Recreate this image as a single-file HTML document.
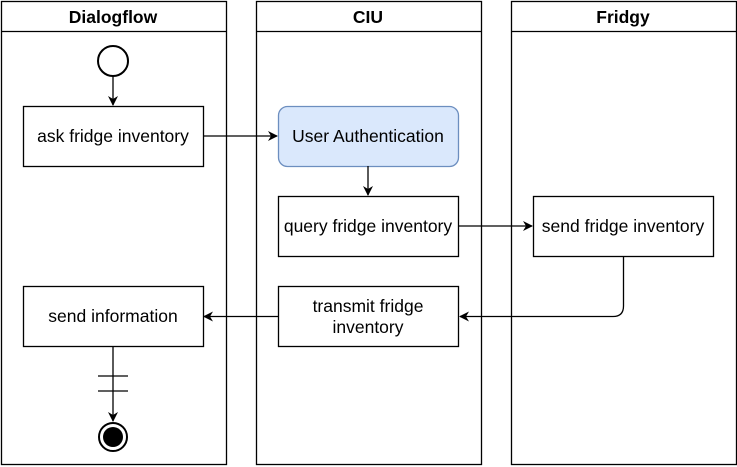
<!DOCTYPE html>
<html><head><style>body{margin:0;background:#fff}svg{display:block}</style></head><body>
<svg width="737" height="467" viewBox="0 0 737 467" xmlns="http://www.w3.org/2000/svg" font-family="Liberation Sans, Arial, sans-serif">
<defs><marker id="a" markerWidth="10" markerHeight="10" refX="9" refY="5" orient="auto" markerUnits="userSpaceOnUse"><path d="M0,0 L10,5 L0,10 L3,5 Z" fill="#000"/></marker></defs>
<g fill="none" stroke="#000" stroke-width="1.3">
<rect x="1.5" y="1.5" width="225" height="463"/><line x1="1.5" y1="31.5" x2="226.5" y2="31.5"/>
<rect x="256.5" y="1.5" width="225" height="463"/><line x1="256.5" y1="31.5" x2="481.5" y2="31.5"/>
<rect x="511.5" y="1.5" width="225" height="463"/><line x1="511.5" y1="31.5" x2="736.5" y2="31.5"/>
<circle cx="113" cy="61" r="15" stroke-width="2"/>
<line x1="113" y1="76" x2="113" y2="105" marker-end="url(#a)"/>
<rect x="23.5" y="106.5" width="180" height="60"/>
<line x1="203" y1="136" x2="277" y2="136" marker-end="url(#a)"/>
<rect x="278.5" y="106.5" width="180" height="60" rx="9" fill="#dae8fc" stroke="#6c8ebf"/>
<line x1="368" y1="166" x2="368" y2="195" marker-end="url(#a)"/>
<rect x="278.5" y="196.5" width="180" height="60"/>
<line x1="458" y1="226" x2="532" y2="226" marker-end="url(#a)"/>
<rect x="533.5" y="196.5" width="180" height="60"/>
<path d="M623.5,256 L623.5,306 Q623.5,316.5 613,316.5 L460,316.5" marker-end="url(#a)"/>
<rect x="278.5" y="286.5" width="180" height="60"/>
<line x1="278" y1="316.5" x2="204" y2="316.5" marker-end="url(#a)"/>
<rect x="23.5" y="286.5" width="180" height="60"/>
<line x1="113" y1="346" x2="113" y2="421" marker-end="url(#a)"/>
<line x1="98" y1="376" x2="128" y2="376"/><line x1="98" y1="391" x2="128" y2="391"/>
<circle cx="113" cy="437" r="14" stroke-width="2"/>
</g>
<circle cx="113" cy="437" r="10" fill="#000"/>
<g font-size="17.5" text-anchor="middle" fill="#000">
<text x="113" y="23" font-weight="bold">Dialogflow</text>
<text x="368" y="23" font-weight="bold">CIU</text>
<text x="623" y="23" font-weight="bold">Fridgy</text>
<text x="113" y="142">ask fridge inventory</text>
<text x="368" y="142">User Authentication</text>
<text x="368" y="232">query fridge inventory</text>
<text x="623" y="232">send fridge inventory</text>
<text x="368" y="312">transmit fridge</text>
<text x="368" y="333">inventory</text>
<text x="113" y="322">send information</text>
</g>
</svg>
</body></html>
